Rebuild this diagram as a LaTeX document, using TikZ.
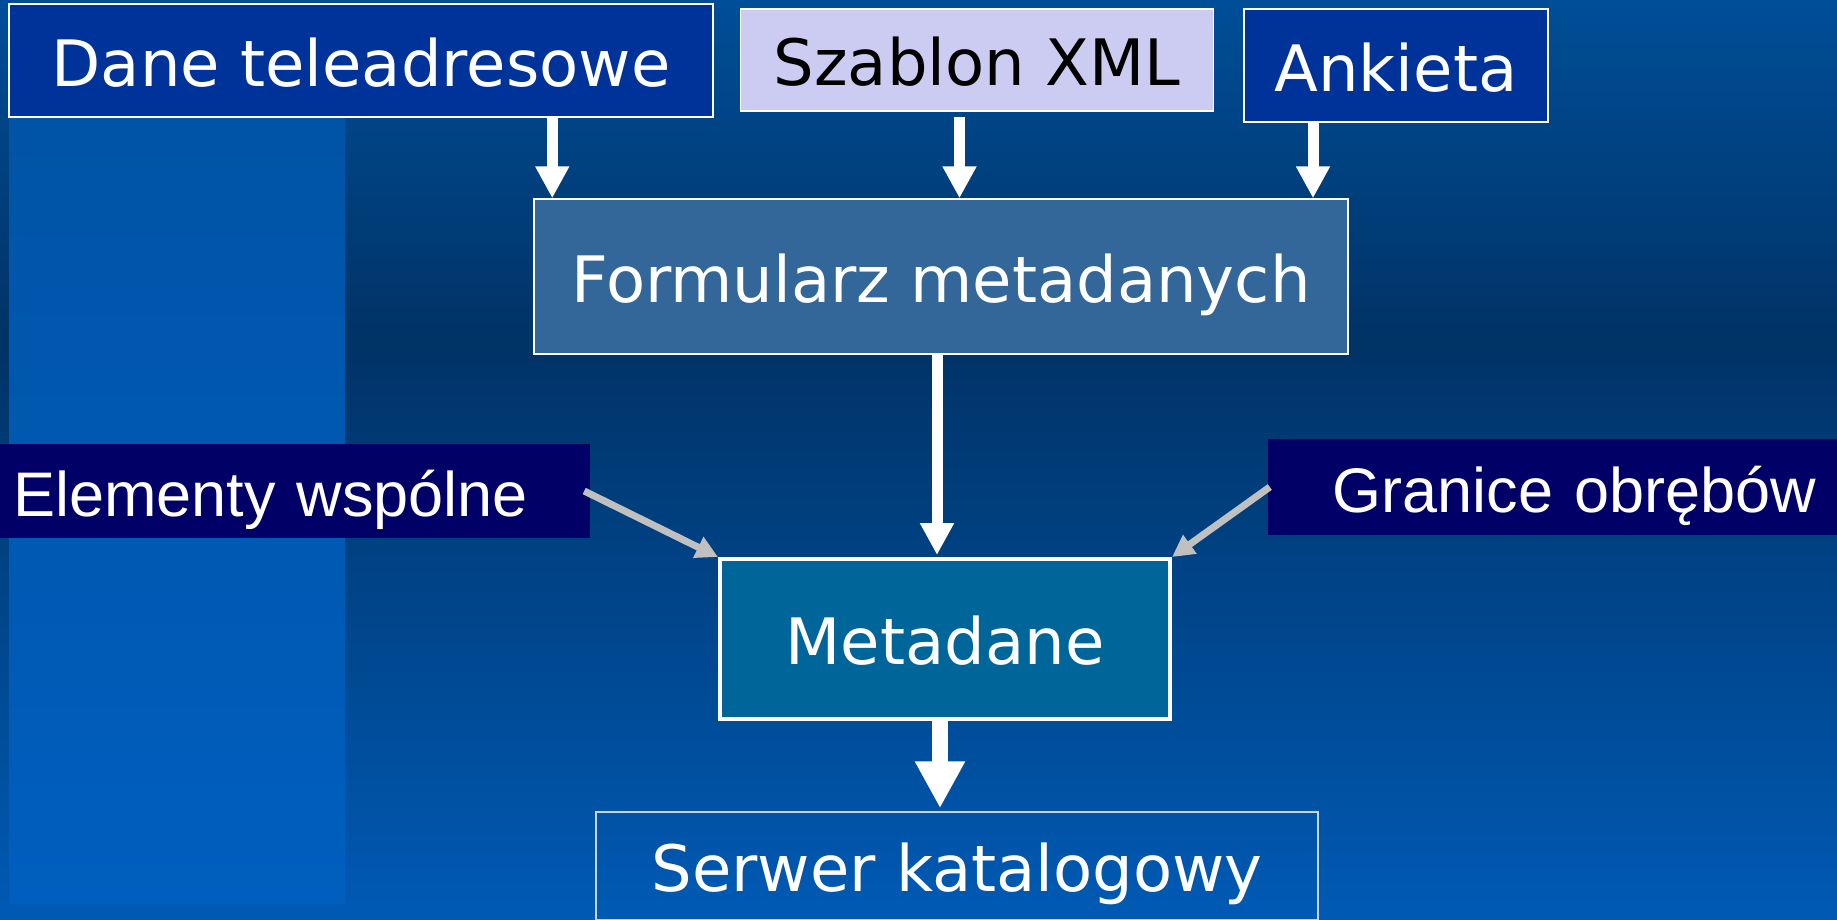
\documentclass[tikz,border=0pt]{standalone}
\usepackage{fontspec}
\setmainfont{DejaVu Sans}
\newfontfamily\arialfont{Liberation Sans}
\usetikzlibrary{arrows.meta, positioning}

\definecolor{tloGora}{RGB}{0,78,152}
\definecolor{tloSrodek}{RGB}{0,51,102}
\definecolor{tloDol}{RGB}{0,90,180}
\definecolor{pasGora}{RGB}{0,84,166}
\definecolor{pasDol}{RGB}{0,94,190}
\definecolor{granat}{RGB}{0,51,153}
\definecolor{lawenda}{RGB}{204,204,242}
\definecolor{stal}{RGB}{51,102,153}
\definecolor{morski}{RGB}{0,102,153}
\definecolor{noc}{RGB}{0,0,102}
\definecolor{szary}{RGB}{192,192,192}
\definecolor{ramka}{RGB}{200,215,235}

\begin{document}
\begin{tikzpicture}
  [
  x = 1pt, y = -1pt,
  block/.style = {rectangle, draw = white, line width = 1.5pt,
    inner sep = 0pt, text height = 60pt, text depth = 9pt,
    font = \fontsize{64}{70}\selectfont, text = white},
  % ciemne etykiety z boku
  etykieta/.style = {rectangle, fill = noc, inner ysep = 0pt,
    text height = 60pt, text depth = 9pt,
    font = \arialfont\fontsize{63}{70}\selectfont, text = white},
  % line
  line/.style = {draw = white, line width = 11pt,
    -{Triangle[width = 32pt, length = 32pt]}},
  gruba/.style = {draw = white, line width = 16pt,
    -{Triangle[width = 47pt, length = 47pt]}},
  boczna/.style = {draw = szary, line width = 7pt,
    -{Triangle[width = 22pt, length = 22pt]}},
  ]

  \useasboundingbox (0,0) rectangle (1837,919);

  % tlo
  \fill [top color = tloGora, bottom color = tloSrodek] (0,0) rectangle (1837,340);
  \fill [top color = tloSrodek, bottom color = tloDol] (0,340) rectangle (1837,919);
  \fill [top color = pasGora, bottom color = pasDol] (9,117) rectangle (345,903);

  % nodes
  \node [block, fill = granat, minimum width = 704pt, minimum height = 113pt]
    (dane) at (361,60.5) {Dane teleadresowe};
  \node [block, fill = lawenda, text = black, minimum width = 473pt,
    minimum height = 102pt, below right = 5pt and 26pt of dane.north east]
    (szablon) {Szablon XML};
  \node [block, fill = granat, minimum width = 304pt, minimum height = 113pt,
    below right = 0pt and 29pt of szablon.north east]
    (ankieta) {Ankieta};
  \node [block, fill = stal, minimum width = 814pt, minimum height = 155pt]
    (formularz) at (941,276.5) {Formularz metadanych};
  \node [etykieta, minimum width = 590pt, minimum height = 94pt,
    inner xsep = 13pt, text width = 564pt, align = left]
    (elementy) at (295,491) {Elementy wspólne};
  \node [etykieta, minimum width = 569pt, minimum height = 96pt,
    inner xsep = 21pt, text width = 527pt, align = right]
    (granice) at (1552.5,487) {Granice obrębów};
  \node [block, fill = morski, line width = 4pt, minimum width = 450pt,
    minimum height = 160pt] (metadane) at (945,639) {Metadane};
  \node [block, draw = ramka, minimum width = 722pt, minimum height = 108pt]
    (serwer) at (957,866) {Serwer katalogowy};

  % path
  \path [line] ([xshift = 19pt]formularz.north west |- dane.south)
    -- ([xshift = 19pt]formularz.north west);
  \path [line, shorten <= 5pt] ([xshift = -17.5pt]szablon.south)
    -- ([xshift = -17.5pt]szablon.south |- formularz.north);
  \path [line] ([xshift = -83pt]ankieta.south)
    -- ([xshift = -83pt]ankieta.south |- formularz.north);
  \path [line, shorten >= 2pt] ([xshift = -4pt]formularz.south)
    -- ([xshift = -8pt]metadane.north);
  \path [gruba, shorten >= 3pt] ([xshift = -5pt]metadane.south)
    -- ([xshift = -17pt]serwer.north);
  \path [boczna] ([xshift = -6pt]elementy.east) -- (metadane.north west);
  \path [boczna] ([xshift = 2pt]granice.west) -- (metadane.north east);

\end{tikzpicture}
\end{document}
